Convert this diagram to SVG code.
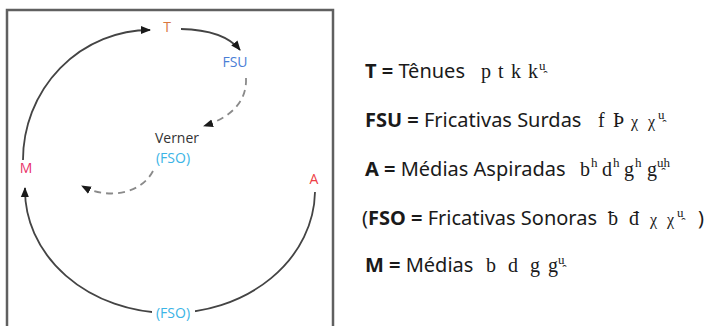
<svg xmlns="http://www.w3.org/2000/svg" width="710" height="326" viewBox="0 0 710 326">
<style>
.lbl{font-family:"Open Sans","Noto Sans",sans-serif;font-size:14px;text-anchor:middle}
.txt{font-family:"Noto Sans","Open Sans",sans-serif;font-size:20px;fill:#1a1a1a}
.b{font-weight:bold}
.ph{font-family:"Liberation Serif","DejaVu Serif",serif;font-size:20px;fill:#1a1a1a}
.chi{font-family:"Liberation Serif","DejaVu Serif",serif;font-size:16px;fill:#1a1a1a}
.sup{font-family:"Liberation Serif","DejaVu Serif",serif;font-size:13px;fill:#1a1a1a}
.solid{fill:none;stroke:#444;stroke-width:1.8}
.dash{fill:none;stroke:#8a8a8a;stroke-width:1.8;stroke-dasharray:7 5}
</style>
<defs>
<marker id="ah" markerWidth="11" markerHeight="10" refX="9" refY="5" orient="auto" markerUnits="userSpaceOnUse">
<path d="M0,1 L10,5 L0,9 Z" fill="#1a1a1a"/>
</marker>
</defs>
<rect x="0" y="0" width="710" height="326" fill="#fff"/>
<rect x="7" y="10" width="326" height="330" fill="none" stroke="#606060" stroke-width="2.5"/>
<g id="connectors">
<path class="solid" d="M23,160 A127,130 0 0 1 150,30" marker-end="url(#ah)"/>
<path class="solid" d="M181,29 Q224,30 240,50" marker-end="url(#ah)"/>
<path class="dash" d="M246,78 C247,101 232,117 204,126" marker-end="url(#ah)"/>
<path class="dash" d="M153,171 C141,194 108,200 82,186" marker-end="url(#ah)"/>
<path class="solid" d="M315,192 A145,123 0 0 1 25,188" marker-end="url(#ah)"/>
</g>
<g id="T"><text class="lbl" x="167" y="32" fill="#d9773d">T</text></g>
<g id="FSU"><text class="lbl" x="235" y="67" fill="#4a7ed6">FSU</text></g>
<g id="Verner"><text class="lbl" x="177" y="143" fill="#333">Verner</text>
<text class="lbl" x="173" y="163" fill="#3bb4e6">(FSO)</text></g>
<g id="M"><text class="lbl" x="26" y="173" fill="#e8336b">M</text></g>
<g id="A"><text class="lbl" x="314" y="184" fill="#ee3f45">A</text></g>
<g id="FSO"><rect x="152" y="304" width="43" height="18" fill="#fff"/>
<text class="lbl" x="173" y="318" fill="#3bb4e6">(FSO)</text></g>
<g id="legend">
<text class="txt" x="365" y="78"><tspan class="b">T =</tspan> Tênues</text>
<text class="ph" y="78"><tspan x="481">p</tspan><tspan x="498">t</tspan><tspan x="511">k</tspan><tspan x="528">k</tspan></text>
<text class="sup" x="539" y="70">u̯</text>

<text class="txt" x="365" y="127"><tspan class="b">FSU =</tspan> Fricativas Surdas</text>
<text class="ph" y="127"><tspan x="598">f</tspan><tspan x="613">Þ</tspan></text>
<text class="chi" y="127"><tspan x="631">χ</tspan><tspan x="648">χ</tspan></text>
<text class="sup" x="658" y="119">u̯</text>

<text class="txt" x="365" y="176"><tspan class="b">A =</tspan> Médias Aspiradas</text>
<text class="ph" y="176"><tspan x="580">b</tspan><tspan x="602">d</tspan><tspan x="624">g</tspan><tspan x="647">g</tspan></text>
<text class="sup" y="167"><tspan x="591">h</tspan><tspan x="613">h</tspan><tspan x="635">h</tspan><tspan x="657">u̯h</tspan></text>

<text class="txt" x="362" y="225">(<tspan class="b">FSO =</tspan> Fricativas Sonoras</text>
<text class="ph" y="225"><tspan x="608">ƀ</tspan><tspan x="629">đ</tspan></text>
<text class="chi" y="225"><tspan x="650">χ</tspan><tspan x="667">χ</tspan></text>
<text class="sup" x="677" y="217">u̯</text>
<text class="txt" x="698" y="225">)</text>

<text class="txt" x="365" y="272"><tspan class="b">M =</tspan> Médias</text>
<text class="ph" y="272"><tspan x="486">b</tspan><tspan x="508">d</tspan><tspan x="530">g</tspan><tspan x="548">g</tspan></text>
<text class="sup" x="558" y="264">u̯</text>
</g>
</svg>
